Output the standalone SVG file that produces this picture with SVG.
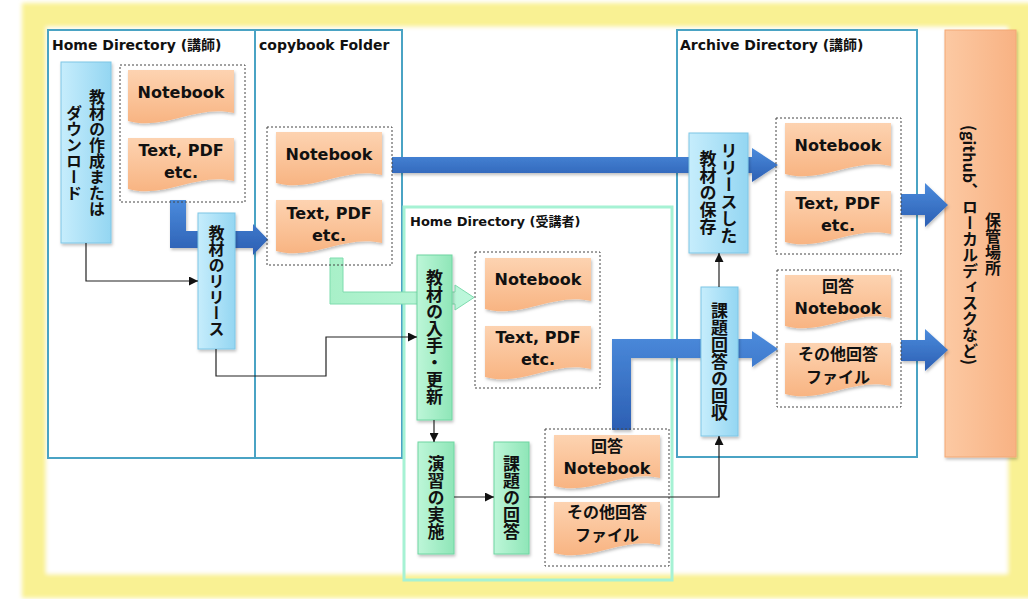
<svg xmlns="http://www.w3.org/2000/svg" xmlns:xlink="http://www.w3.org/1999/xlink" width="1028" height="599" viewBox="0 0 1028 599">
<style>
.frame{fill:#ffffff;stroke:#f9f193;stroke-width:24}
.cont{fill:none;stroke:#4aa3c4;stroke-width:2}
.contg{fill:none;stroke:#a6f2d4;stroke-width:3}
.title{font-family:"DejaVu Sans","Noto Sans CJK JP",sans-serif;font-weight:bold;font-size:14px;fill:#111}
.grp{fill:none;stroke:#444;stroke-width:1;stroke-dasharray:2 2}
.doc{fill:url(#gDoc);filter:url(#sh)}
.dt{font-family:"DejaVu Sans","Noto Sans CJK JP",sans-serif;font-weight:bold;font-size:16px;fill:#111;text-anchor:middle}
.jt{font-family:"Noto Sans CJK JP",sans-serif;font-weight:bold;font-size:16px;fill:#111;text-anchor:middle}
.bbox{fill:url(#gBlue);stroke:#7ec6e6;stroke-width:1;filter:url(#sh)}
.gbox{fill:url(#gGreen);stroke:#6fd6a2;stroke-width:1;filter:url(#sh)}
.vt{font-family:"Noto Sans CJK JP",sans-serif;font-weight:bold;font-size:17px;fill:#111;text-anchor:middle;writing-mode:vertical-rl}
.thick{fill:url(#gArrow);filter:url(#sh)}
.garrow{fill:url(#gGA);stroke:#7edcae;stroke-width:1}
.thin{fill:none;stroke:#222;stroke-width:1.2;marker-end:url(#ah)}
</style>
<defs>
<linearGradient id="gDoc" x1="0" y1="0" x2="0" y2="1"><stop offset="0" stop-color="#fdd3b1"/><stop offset="1" stop-color="#f8b482"/></linearGradient>
<linearGradient id="gBlue" x1="0" y1="0" x2="1" y2="0"><stop offset="0" stop-color="#c6edfc"/><stop offset="1" stop-color="#94d6f2"/></linearGradient>
<linearGradient id="gGreen" x1="0" y1="0" x2="1" y2="0"><stop offset="0" stop-color="#bdf6d8"/><stop offset="1" stop-color="#8fe6b8"/></linearGradient>
<linearGradient id="gOrange" x1="0" y1="0" x2="1" y2="0"><stop offset="0" stop-color="#fcc9a3"/><stop offset="1" stop-color="#f8b283"/></linearGradient>
<linearGradient id="gArrow" x1="0" y1="0" x2="0" y2="1"><stop offset="0" stop-color="#4b8bdc"/><stop offset="1" stop-color="#2c5fb3"/></linearGradient>
<linearGradient id="gGA" x1="0" y1="0" x2="1" y2="0"><stop offset="0" stop-color="#a8f0c8"/><stop offset="1" stop-color="#bdf7dc"/></linearGradient>
<filter id="sh" x="-20%" y="-20%" width="140%" height="140%"><feDropShadow dx="1" dy="2" stdDeviation="1.5" flood-color="#000" flood-opacity="0.25"/></filter>
<filter id="fuzz"><feGaussianBlur stdDeviation="2"/></filter>
<path id="doc" d="M0,0 H106 V43 C69,34 37,61 0,51 Z"/>
<marker id="ah" viewBox="0 0 10 10" refX="10" refY="5" markerWidth="9" markerHeight="9" markerUnits="userSpaceOnUse" orient="auto"><path d="M0,0 L10,5 L0,10 Z" fill="#111"/></marker>
</defs>

<rect x="0" y="0" width="1028" height="599" fill="#ffffff"/>
<rect class="frame" x="34" y="15" width="986" height="571" filter="url(#fuzz)"/>

<g id="containers">
<g id="home-teacher"><rect class="cont" x="48" y="30" width="207" height="428"/><text class="title" x="52" y="50">Home Directory (講師)</text></g>
<g id="copybook"><rect class="cont" x="255" y="30" width="147" height="428"/><text class="title" x="259" y="50">copybook Folder</text></g>
<g id="archive"><rect class="cont" x="677" y="30" width="240" height="427"/><text class="title" x="680" y="50">Archive Directory (講師)</text></g>
<g id="home-student"><rect class="contg" x="404" y="207" width="268" height="373"/><text class="title" x="410" y="226" style="font-size:13px">Home Directory (受講者)</text></g>
</g>

<g id="storage">
<rect x="945" y="30" width="71" height="427" fill="url(#gOrange)" stroke="#f3a875" stroke-width="1" filter="url(#sh)"/>
<text class="vt" x="993" y="243.5" style="font-size:16px">保管場所</text>
<text class="vt" x="970" y="245" style="font-size:16px">(github、ローカルディスクなど)</text>
</g>

<g id="thick-connectors">
<path class="thick" d="M170,200 H186 V231 H253 V224 L268,239.5 L253,255 V248 H170 Z"/>
<path class="thick" d="M392,157 H752 V148 L778,165 L752,182 V173 H392 Z"/>
<path class="thick" d="M612,430 V339 H752 V331 L778,349 L752,367 V358 H631 V430 Z"/>
<path class="thick" d="M901,194 H925 V183 L948,205 L925,227 V215 H901 Z"/>
<path class="thick" d="M901,340 H925 V329 L948,350 L925,371 V361 H901 Z"/>
<path class="garrow" d="M330,258 H343 V292 H455 V285 L474,297.5 L455,310 V304 H330 Z"/>
</g>

<g id="group-home"><rect class="grp" x="120" y="65" width="125" height="137"/>
<g id="home-notebook"><use href="#doc" class="doc" x="128" y="70"/><text class="dt" x="181" y="98">Notebook</text></g>
<g id="home-text"><use href="#doc" class="doc" x="128" y="138"/><text class="dt" x="181" y="156">Text, PDF</text><text class="dt" x="181" y="178">etc.</text></g>
</g>
<g id="group-copybook"><rect class="grp" x="267" y="127" width="125" height="138"/>
<g id="cb-notebook"><use href="#doc" class="doc" x="276" y="132"/><text class="dt" x="329" y="160">Notebook</text></g>
<g id="cb-text"><use href="#doc" class="doc" x="276" y="200"/><text class="dt" x="329" y="219">Text, PDF</text><text class="dt" x="329" y="241">etc.</text></g>
</g>
<g id="group-student"><rect class="grp" x="475" y="252" width="125" height="136"/>
<g id="st-notebook"><use href="#doc" class="doc" x="485" y="258"/><text class="dt" x="538" y="285">Notebook</text></g>
<g id="st-text"><use href="#doc" class="doc" x="485" y="326"/><text class="dt" x="538" y="343">Text, PDF</text><text class="dt" x="538" y="365">etc.</text></g>
</g>
<g id="group-answer"><rect class="grp" x="545" y="429" width="124" height="137"/>
<g id="ans-notebook"><use href="#doc" class="doc" x="554" y="435"/><text class="jt" x="607" y="452">回答</text><text class="dt" x="607" y="474">Notebook</text></g>
<g id="ans-other"><use href="#doc" class="doc" x="554" y="502"/><text class="jt" x="607" y="518">その他回答</text><text class="jt" x="607" y="541">ファイル</text></g>
</g>
<g id="group-archive1"><rect class="grp" x="776" y="118" width="125" height="136"/>
<g id="ar-notebook"><use href="#doc" class="doc" x="785" y="123"/><text class="dt" x="838" y="151">Notebook</text></g>
<g id="ar-text"><use href="#doc" class="doc" x="785" y="191"/><text class="dt" x="838" y="209">Text, PDF</text><text class="dt" x="838" y="231">etc.</text></g>
</g>
<g id="group-archive2"><rect class="grp" x="777" y="270" width="124" height="137"/>
<g id="ar-ans-notebook"><use href="#doc" class="doc" x="785" y="275"/><text class="jt" x="838" y="292">回答</text><text class="dt" x="838" y="314">Notebook</text></g>
<g id="ar-ans-other"><use href="#doc" class="doc" x="785" y="343"/><text class="jt" x="838" y="360">その他回答</text><text class="jt" x="838" y="383">ファイル</text></g>
</g>

<g id="create"><rect class="bbox" x="61" y="62" width="50" height="181"/><text class="vt" x="97" y="152.5" style="font-size:16px">教材の作成または</text><text class="vt" x="74" y="152.5" style="font-size:16px">ダウンロード</text></g>
<g id="release"><rect class="bbox" x="198" y="213" width="37" height="136"/><text class="vt" x="216.5" y="281" style="font-size:16px">教材のリリース</text></g>
<g id="save"><rect class="bbox" x="689" y="133" width="59" height="120"/><text class="vt" x="729" y="193">リリースした</text><text class="vt" x="708" y="193">教材の保存</text></g>
<g id="collect"><rect class="bbox" x="701" y="287" width="37" height="149"/><text class="vt" x="719.5" y="361.5">課題回答の回収</text></g>
<g id="obtain"><rect class="gbox" x="417" y="255" width="35" height="165"/><text class="vt" x="434.5" y="337.5">教材の入手・更新</text></g>
<g id="exercise"><rect class="gbox" x="418" y="442" width="36" height="112"/><text class="vt" x="436" y="498">演習の実施</text></g>
<g id="answer"><rect class="gbox" x="494" y="442" width="35" height="112"/><text class="vt" x="511.5" y="498">課題の回答</text></g>

<g id="connectors">
<path class="thin" d="M86,243 V281 H198"/>
<path class="thin" d="M216,349 V376 H326 V337 H417"/>
<path class="thin" d="M434,420 V442"/>
<path class="thin" d="M454,497 H494"/>
<path class="thin" d="M529,497 H719 V436"/>
<path class="thin" d="M719,287 V253"/>
</g>
</svg>
